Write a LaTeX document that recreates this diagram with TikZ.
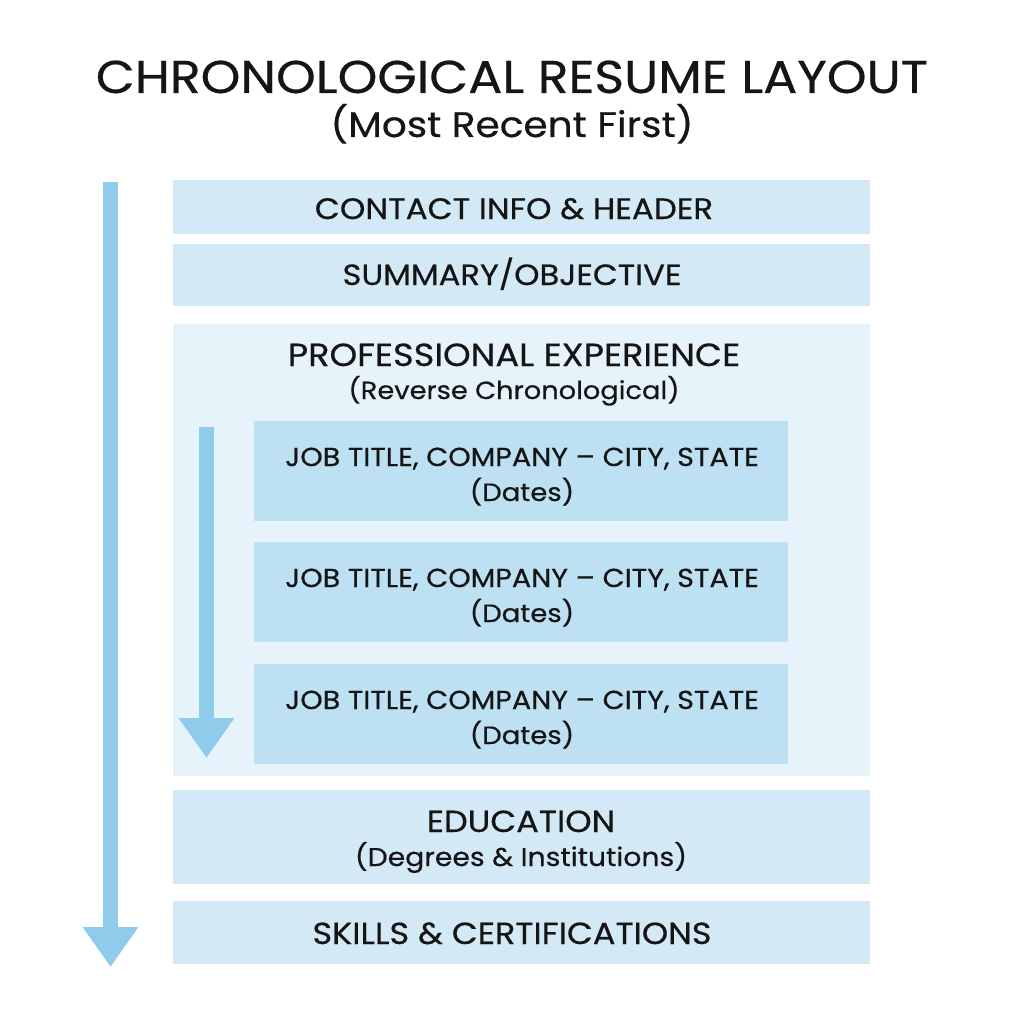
\documentclass[tikz,border=0pt]{standalone}
\usepackage{fontspec}
\setmainfont{Poppins}[FakeStretch=1.1,FakeBold=0.5]
\usetikzlibrary{arrows.meta}
\definecolor{arrowc}{HTML}{8FCBEA}
\definecolor{secc}{HTML}{D3EAF6}
\definecolor{proc}{HTML}{E6F3FA}
\definecolor{jobc}{HTML}{BDE0F3}
\definecolor{txt}{HTML}{151515}
\newcommand{\fsz}[1]{\fontsize{#1}{#1}\selectfont}
\tikzset{
  sec/.style={fill=secc, draw=none, inner sep=0pt},
  job/.style={fill=jobc, draw=none, inner sep=0pt},
  lbl/.style={text=txt, align=center, inner sep=0pt, anchor=base},
  flow/.style={draw=arrowc, line width=15pt, -{Triangle[width=53pt,length=40pt]}}
}
\begin{document}
\begin{tikzpicture}[x=1pt,y=-1pt]
\useasboundingbox[fill=white] (0,0) rectangle (1024,1024);
\node[lbl, font=\fsz{46}] (title) at (512,93) {CHRONOLOGICAL RESUME LAYOUT};
\node[lbl, font=\fsz{35.5}] (sub) at (512,137) {(Most Recent First)};
% sections
\path[sec] (173,180) rectangle (870,234);
\node[lbl, font=\fsz{29.5}] (contact) at (514,219) {CONTACT INFO \& HEADER};
\path[sec] (173,244) rectangle (870,306);
\node[lbl, font=\fsz{29.3}] (summary) at (512,285) {SUMMARY/OBJECTIVE};
\path[fill=proc] (173,324) rectangle (870,776);
\node[lbl, font=\fsz{32}] (pro) at (514,366) {PROFESSIONAL EXPERIENCE};
\node[lbl, font=\fsz{24.8}] (prosub) at (514,399) {(Reverse Chronological)};
\foreach \n/\y in {1/421,2/542,3/664}{
  \path[job] (254,\y) rectangle (788,\y+100);
  \node[lbl, font=\fsz{26}] (job\n) at (522,\y+45) {JOB TITLE, COMPANY -- CITY, STATE};
  \node[lbl, font=\fsz{25}] (dates\n) at (522,\y+80) {(Dates)};
}
\path[sec] (173,790) rectangle (870,884);
\node[lbl, font=\fsz{30.5}] (edu) at (521,832) {EDUCATION};
\node[lbl, font=\fsz{25.7}] (edusub) at (521,866) {(Degrees \& Institutions)};
\path[sec] (173,901) rectangle (870,964);
\node[lbl, font=\fsz{30.5}] (skills) at (512,944) {SKILLS \& CERTIFICATIONS};
% arrows
\coordinate (a1s) at (110.5,182);
\coordinate (a1e) at (110.5,967);
\draw[flow] (a1s) -- (a1e);
\coordinate (a2s) at (206.5,427);
\coordinate (a2e) at (206.5,758);
\draw[flow] (a2s) -- (a2e);
\end{tikzpicture}
\end{document}
